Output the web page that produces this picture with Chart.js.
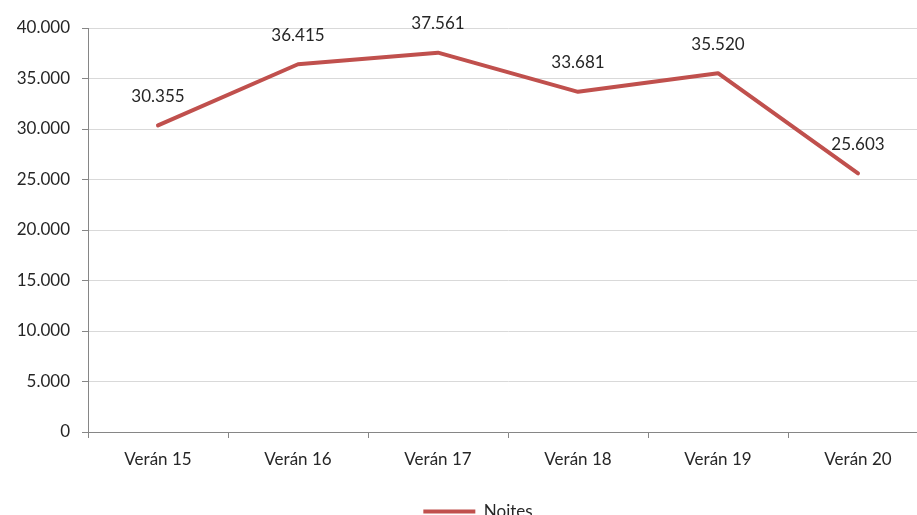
<!DOCTYPE html>
<html><head><meta charset="utf-8">
<script src="https://cdn.jsdelivr.net/npm/chart.js@4/dist/chart.umd.min.js"></script>
<style>html,body{margin:0;padding:0;background:#fff;overflow:hidden;width:917px;height:515px}canvas{display:block}</style>
</head><body>
<canvas id="c" width="930" height="530"></canvas>
<script>
const categories = ["Verán 15","Verán 16","Verán 17","Verán 18","Verán 19","Verán 20"];
const noites = [30355, 36415, 37561, 33681, 35520, 25603];
const seriesName = "Noites";
const yMin = 0, yMax = 40000, yStep = 5000;

const fmt = v => Math.round(v).toString().replace(/\B(?=(\d{3})+(?!\d))/g, ".");
const FONT = "Lato, 'Open Sans', sans-serif";
const TEXT = "#262626";

const labelPlugin = {
  id: "labels",
  afterLayout(chart) {
    if (chart.legend) { chart.legend.left += 14; chart.legend.right += 14; }
  },
  afterDatasetsDraw(chart) {
    const ctx = chart.ctx;
    const meta = chart.getDatasetMeta(0);
    ctx.save();
    ctx.font = "17px " + FONT;
    ctx.fillStyle = TEXT;
    ctx.textAlign = "center";
    ctx.textBaseline = "middle";
    meta.data.forEach((p, i) => {
      ctx.fillText(fmt(chart.data.datasets[0].data[i]), p.x, p.y - 29);
    });
    ctx.restore();
  }
};

new Chart(document.getElementById("c"), {
  type: "line",
  data: {
    labels: categories,
    datasets: [{
      label: seriesName,
      data: noites,
      borderColor: "#C0504D",
      backgroundColor: "#C0504D",
      borderWidth: 4,
      pointRadius: 0,
      tension: 0,
      borderCapStyle: "round",
      borderJoinStyle: "round"
    }]
  },
  options: {
    responsive: false,
    animation: false,
    layout: { padding: { top: 28, right: 2, left: 0, bottom: 0 } },
    plugins: {
      legend: {
        position: "bottom",
        labels: {
          font: { family: FONT, size: 17 },
          color: TEXT,
          usePointStyle: true,
          pointStyle: "line",
          pointStyleWidth: 52,
          boxWidth: 52,
          padding: 10
        }
      },
      tooltip: { enabled: false }
    },
    scales: {
      x: {
        offset: true,
        grid: { offset: true, drawOnChartArea: false, tickLength: 6, color: "#868686" },
        border: { color: "#868686" },
        ticks: { font: { family: FONT, size: 17 }, color: TEXT, padding: 11, maxRotation: 0 },
        afterFit(s) { s.height = 61; }
      },
      y: {
        min: yMin, max: yMax,
        grid: { color: "#d9d9d9", tickLength: 6, tickColor: "#868686" },
        border: { color: "#868686" },
        ticks: { stepSize: yStep, font: { family: FONT, size: 17 }, color: TEXT, padding: 12, callback: v => fmt(v) },
        afterFit(s) { s.width = 88; }
      }
    }
  },
  plugins: [labelPlugin]
});
</script>
</body></html>
